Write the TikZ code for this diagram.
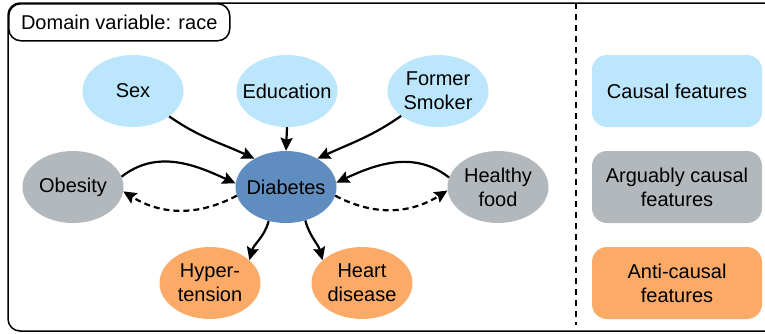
\documentclass[tikz,border=0pt]{standalone}
\usepackage{fontspec}
\setmainfont{Liberation Sans}
\usetikzlibrary{shapes.geometric,arrows.meta}
\definecolor{causal}{RGB}{187,230,251}
\definecolor{diabc}{RGB}{96,141,192}
\definecolor{arguable}{RGB}{179,184,189}
\definecolor{anti}{RGB}{252,170,104}
\begin{document}
\begin{tikzpicture}[x=1pt,y=1pt,
  var/.style={ellipse,minimum width=101pt,minimum height=72pt,inner xsep=-12pt,inner ysep=0pt,align=center,font=\fontsize{20}{24}\selectfont},
  legendbox/.style={rounded corners=15pt,minimum width=170pt,minimum height=72pt,inner sep=0pt,align=center,font=\fontsize{20}{24}\selectfont},
  arr/.style={-{Stealth[length=13pt,width=12pt,inset=2pt]},line width=2.2pt},
  darr/.style={arr,dash pattern=on 6pt off 4pt}]
\useasboundingbox (0,0) rectangle (765,-333);
\clip (0,0) rectangle (765,-333);
\fill[white] (0,0) rectangle (765,-333);
\draw[line width=1.5pt,rounded corners=12pt] (8,-3) rectangle (800,-331);
\node[draw,line width=1.5pt,rounded corners=12pt,anchor=north west,minimum width=221pt,minimum height=37pt,inner sep=0pt,font=\fontsize{20}{24}\selectfont] (title) at (8,-3) {Domain variable: race};
\coordinate (septop) at (576,-3);
\coordinate (sepbot) at (576,-325);
\draw[line width=1.5pt,dash pattern=on 6pt off 5pt] (septop) -- (sepbot);

\node[var,fill=causal] (sex) at (133,-91) {Sex};
\node[var,fill=causal] (edu) at (287,-91) {Education};
\node[var,fill=causal] (smk) at (438,-91) {Former\\Smoker};
\node[var,fill=arguable] (obs) at (73,-187) {Obesity};
\node[var,fill=diabc] (dia) at (286,-187) {Diabetes};
\node[var,fill=arguable] (hfd) at (498,-187) {Healthy\\food};
\node[var,fill=anti] (hyp) at (210,-283) {Hyper-\\tension};
\node[var,fill=anti] (hrt) at (362,-283) {Heart\\disease};

\node[legendbox,fill=causal] (lc) at (677,-91) {Causal features};
\node[legendbox,fill=arguable] (la) at (677,-187) {Arguably causal\\features};
\node[legendbox,fill=anti] (lx) at (677,-283) {Anti-causal\\features};

\draw[arr] (sex.-35) to[out=-35,in=155] (dia.138);
\draw[arr] (edu.south) -- (dia.north);
\draw[arr] (smk.214) to[out=215,in=25] (dia.42);
\draw[arr] (obs.12) to[out=38,in=155] (dia.176);
\draw[darr] (dia.190) to[out=208,in=-32] (obs.-5);
\draw[arr] (hfd.169) to[out=142,in=25] (dia.5);
\draw[darr] (dia.-10) to[out=-28,in=212] (hfd.184);
\draw[arr] (dia.243) to[out=-105,in=75] (hyp.30);
\draw[arr] (dia.-60) to[out=-75,in=105] (hrt.150);
\end{tikzpicture}
\end{document}
